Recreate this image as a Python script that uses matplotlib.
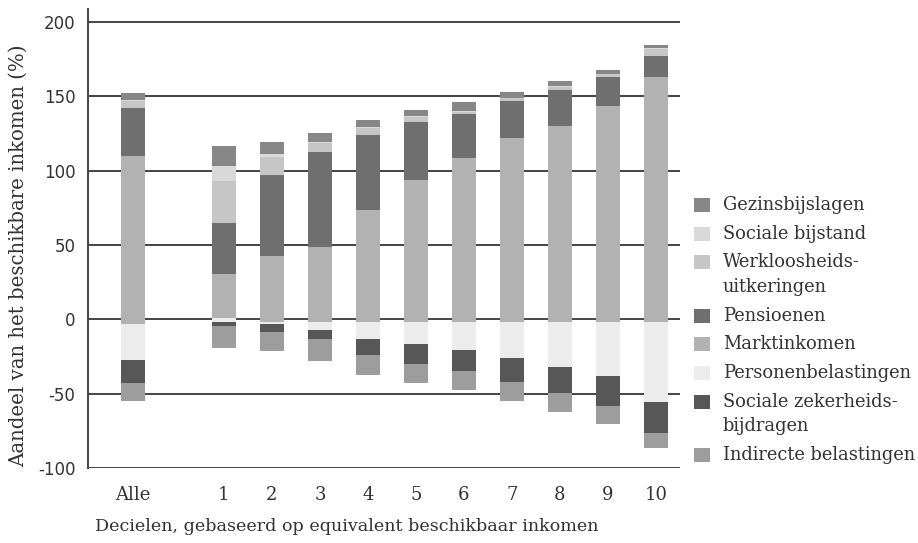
import numpy as np
import matplotlib
matplotlib.use('Agg')
import matplotlib.pyplot as plt
from matplotlib.patches import Rectangle

plt.rcParams['font.family'] = ['DejaVu Serif']
plt.rcParams['text.color'] = '#333333'

# data (% of disposable income)
labels = ['Alle', '1', '2', '3', '4', '5', '6', '7', '8', '9', '10']
basis = [-3, 1, -1.5, -2, -2, -2, -2, -2, -1.5, -2, -1.5]

markt = [113.2, 29.7, 43.8, 50.5, 75.4, 95.6, 110.5, 124.0, 131.3, 145.5, 164.4]
pens = [31.7, 34.4, 54.5, 63.8, 50.6, 39.1, 29.7, 24.9, 24.3, 19.6, 14.1]
werkl = [4.7, 28.2, 12.2, 6.1, 4.7, 3.6, 1.5, 1.7, 2.4, 1.7, 5.1]
socbij = [1.3, 10.2, 2.0, 0.7, 0.7, 0.5, 0.4, 0.3, 0.3, 0.3, 0.3]
gezins = [4.1, 12.8, 8.1, 6.0, 4.7, 4.2, 6.1, 4.1, 3.4, 2.7, 2.0]

persbel = [24.5, 2.7, 1.4, 5.4, 11.5, 14.8, 18.9, 24.3, 30.4, 36.4, 53.9]
soczek = [15.2, 2.7, 5.3, 6.1, 10.8, 13.5, 14.1, 16.1, 17.5, 20.2, 20.9]
indirect = [12.2, 14.6, 12.9, 14.8, 12.8, 12.8, 12.8, 12.8, 12.8, 11.5, 10.2]

pos_series = [
    ('Marktinkomen', markt, '#b2b2b2'),
    ('Pensioenen', pens, '#6f6f6f'),
    ('Werkloosheids-\nuitkeringen', werkl, '#c6c6c6'),
    ('Sociale bijstand', socbij, '#d9d9d9'),
    ('Gezinsbijslagen', gezins, '#878787'),
]
neg_series = [
    ('Personenbelastingen', persbel, '#ececec'),
    ('Sociale zekerheids-\nbijdragen', soczek, '#575757'),
    ('Indirecte belastingen', indirect, '#9d9d9d'),
]

x = np.array([-0.9] + list(range(1, 11)), dtype=float)

W, H = 918, 543
fig = plt.figure(figsize=(W/100, H/100), dpi=100)
ax = fig.add_axes([88/W, 75/H, 592/W, 459/H])

width = 0.5
bottom = np.array(basis, dtype=float)
for name, vals, col in pos_series:
    v = np.array(vals)
    ax.bar(x, v, width, bottom=bottom, color=col, linewidth=0, zorder=3)
    bottom = bottom + v

bottom = np.array(basis, dtype=float)
for name, vals, col in neg_series:
    v = np.array(vals)
    ax.bar(x, -v, width, bottom=bottom, color=col, linewidth=0, zorder=3)
    bottom = bottom - v

ax.set_xlim(-1.833, 10.5)
ax.set_ylim(-100, 208.8)
ax.set_yticks([-100, -50, 0, 50, 100, 150, 200])
ax.set_yticklabels(['-100', '-50', '0', '50', '100', '150', '200'],
                   family='DejaVu Sans', fontsize=12, color='#333333')
ax.set_xticks(x)
ax.set_xticklabels(labels, fontsize=13, color='#333333')
ax.tick_params(axis='y', length=0, pad=9)
ax.tick_params(axis='x', length=0, pad=13)

ax.grid(axis='y', color='#444444', linewidth=1.4)
ax.set_axisbelow(True)
for s in ['top', 'right', 'bottom']:
    ax.spines[s].set_visible(False)
ax.spines['left'].set_color('#444444')
ax.spines['left'].set_linewidth(1.4)

ax.set_xlabel('Decielen, gebaseerd op equivalent beschikbaar inkomen',
              fontsize=12.6, color='#333333')
ax.xaxis.set_label_coords(0.4375, -0.11)
ax.set_ylabel('Aandeel van het beschikbare inkomen (%)',
              fontsize=14.2, color='#333333')
ax.yaxis.set_label_coords(-0.101, 0.462)

# legend drawn by hand: square beside the first line of each label
y = 205
for name, vals, col in pos_series[::-1] + neg_series:
    fig.add_artist(Rectangle((694/W, 1 - (y + 7)/H), 16/W, 14/H,
                             transform=fig.transFigure, facecolor=col,
                             edgecolor='none'))
    for k, line in enumerate(name.split('\n')):
        fig.text(723/W, 1 - (y + k*24.5)/H, line, fontsize=12.9,
                 color='#333333', va='center', ha='left')
    y += 28.7 + 24.5*name.count('\n')

fig.savefig('out.png', dpi=100)
